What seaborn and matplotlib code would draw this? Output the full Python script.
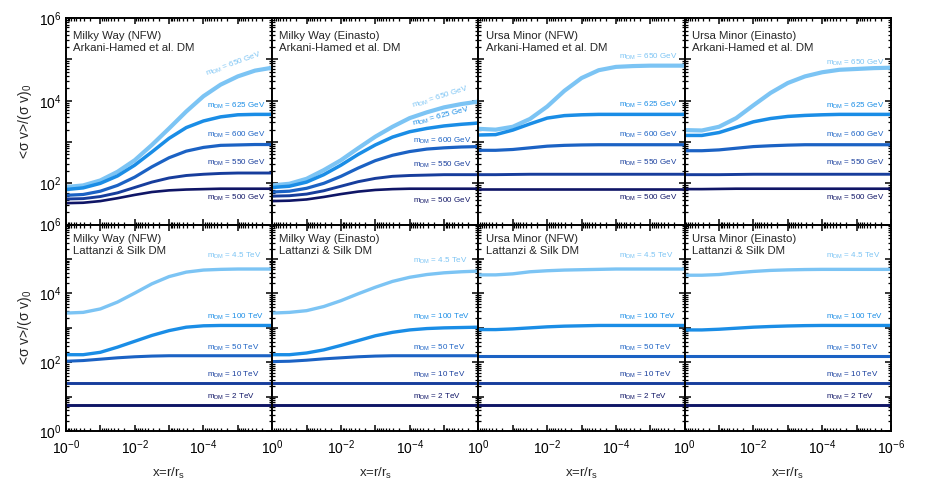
import numpy as np
import pandas as pd
import matplotlib
matplotlib.use("Agg")
import matplotlib.pyplot as plt
import seaborn as sns
from matplotlib.ticker import LogLocator, FuncFormatter, NullFormatter

# ---------------- data (log10 of <sigma v>/(sigma v)_0) -------------
log_x = [0.0, -0.5, -1.0, -1.5, -2.0, -2.5, -3.0, -3.5, -4.0, -4.5, -5.0, -5.5, -6.0]

ah_masses = ["650 GeV", "625 GeV", "600 GeV", "550 GeV", "500 GeV"]
ls_masses = ["4.5 TeV", "100 TeV", "50 TeV", "10 TeV", "2 TeV"]

mw_nfw_ah = [
    [1.91, 1.95, 2.07, 2.28, 2.56, 2.93, 3.33, 3.74, 4.11, 4.39, 4.59, 4.73, 4.80],
    [1.85, 1.89, 2.00, 2.18, 2.44, 2.76, 3.09, 3.35, 3.51, 3.61, 3.66, 3.67, 3.67],
    [1.71, 1.73, 1.81, 1.95, 2.15, 2.40, 2.62, 2.78, 2.87, 2.92, 2.93, 2.94, 2.94],
    [1.62, 1.63, 1.68, 1.77, 1.90, 2.03, 2.13, 2.19, 2.22, 2.24, 2.25, 2.25, 2.25],
    [1.52, 1.53, 1.57, 1.64, 1.72, 1.79, 1.83, 1.85, 1.86, 1.87, 1.87, 1.87, 1.87],
]
mw_ein_ah = [
    [1.95, 1.99, 2.11, 2.32, 2.56, 2.85, 3.13, 3.37, 3.58, 3.72, 3.84, 3.92, 3.98],
    [1.90, 1.93, 2.03, 2.21, 2.44, 2.70, 2.93, 3.12, 3.25, 3.33, 3.39, 3.43, 3.46],
    [1.79, 1.81, 1.88, 2.00, 2.17, 2.37, 2.55, 2.68, 2.77, 2.83, 2.86, 2.88, 2.89],
    [1.69, 1.70, 1.74, 1.82, 1.93, 2.04, 2.12, 2.17, 2.19, 2.20, 2.21, 2.21, 2.21],
    [1.57, 1.58, 1.61, 1.67, 1.74, 1.80, 1.84, 1.86, 1.87, 1.87, 1.87, 1.87, 1.87],
]
umi_nfw_ah = [
    [3.32, 3.30, 3.37, 3.56, 3.86, 4.24, 4.55, 4.74, 4.82, 4.84, 4.85, 4.85, 4.85],
    [3.17, 3.18, 3.29, 3.44, 3.58, 3.64, 3.66, 3.67, 3.67, 3.67, 3.67, 3.67, 3.67],
    [2.80, 2.80, 2.82, 2.86, 2.90, 2.92, 2.93, 2.935, 2.935, 2.935, 2.935, 2.935, 2.935],
    [2.21, 2.21, 2.215, 2.22, 2.22, 2.22, 2.22, 2.22, 2.22, 2.22, 2.22, 2.22, 2.22],
    [1.87, 1.87, 1.87, 1.87, 1.87, 1.87, 1.87, 1.87, 1.87, 1.87, 1.87, 1.87, 1.87],
]
umi_ein_ah = [
    [3.29, 3.28, 3.37, 3.58, 3.89, 4.19, 4.43, 4.59, 4.69, 4.75, 4.77, 4.79, 4.80],
    [3.16, 3.16, 3.23, 3.36, 3.49, 3.57, 3.62, 3.645, 3.66, 3.67, 3.67, 3.67, 3.67],
    [2.79, 2.79, 2.81, 2.85, 2.89, 2.91, 2.925, 2.935, 2.935, 2.935, 2.935, 2.935, 2.935],
    [2.21, 2.21, 2.21, 2.215, 2.22, 2.22, 2.22, 2.22, 2.22, 2.22, 2.22, 2.22, 2.22],
    [1.86, 1.86, 1.865, 1.87, 1.87, 1.87, 1.87, 1.87, 1.87, 1.87, 1.87, 1.87, 1.87],
]
mw_nfw_ls = [
    [3.43, 3.45, 3.55, 3.75, 4.01, 4.28, 4.49, 4.62, 4.68, 4.70, 4.71, 4.71, 4.71],
    [2.22, 2.22, 2.29, 2.44, 2.61, 2.78, 2.92, 3.02, 3.06, 3.07, 3.07, 3.07, 3.07],
    [2.03, 2.05, 2.09, 2.13, 2.16, 2.18, 2.19, 2.19, 2.19, 2.19, 2.19, 2.19, 2.19],
    [1.40, 1.40, 1.40, 1.40, 1.40, 1.40, 1.40, 1.40, 1.40, 1.40, 1.40, 1.40, 1.40],
    [0.75, 0.75, 0.75, 0.75, 0.75, 0.75, 0.75, 0.75, 0.75, 0.75, 0.75, 0.75, 0.75],
]
mw_ein_ls = [
    [3.43, 3.45, 3.50, 3.62, 3.79, 3.99, 4.18, 4.35, 4.47, 4.55, 4.60, 4.63, 4.65],
    [2.22, 2.22, 2.27, 2.36, 2.49, 2.63, 2.77, 2.87, 2.94, 2.98, 3.00, 3.01, 3.02],
    [2.02, 2.03, 2.06, 2.10, 2.13, 2.16, 2.18, 2.19, 2.19, 2.19, 2.19, 2.19, 2.19],
    [1.40, 1.40, 1.40, 1.40, 1.40, 1.40, 1.40, 1.40, 1.40, 1.40, 1.40, 1.40, 1.40],
    [0.75, 0.75, 0.75, 0.75, 0.75, 0.75, 0.75, 0.75, 0.75, 0.75, 0.75, 0.75, 0.75],
]
umi_nfw_ls = [
    [4.54, 4.54, 4.57, 4.63, 4.66, 4.68, 4.69, 4.70, 4.71, 4.71, 4.71, 4.71, 4.71],
    [2.95, 2.95, 2.97, 3.00, 3.03, 3.05, 3.06, 3.07, 3.07, 3.07, 3.07, 3.07, 3.07],
    [2.18, 2.18, 2.18, 2.18, 2.18, 2.18, 2.18, 2.18, 2.18, 2.18, 2.18, 2.18, 2.18],
    [1.41, 1.41, 1.41, 1.41, 1.41, 1.41, 1.41, 1.41, 1.41, 1.41, 1.41, 1.41, 1.41],
    [0.755, 0.755, 0.755, 0.755, 0.755, 0.755, 0.755, 0.755, 0.755, 0.755, 0.755, 0.755, 0.755],
]
umi_ein_ls = [
    [4.53, 4.53, 4.55, 4.60, 4.64, 4.67, 4.685, 4.695, 4.70, 4.70, 4.70, 4.70, 4.70],
    [2.94, 2.94, 2.96, 2.99, 3.02, 3.04, 3.055, 3.065, 3.07, 3.07, 3.07, 3.07, 3.07],
    [2.18, 2.18, 2.18, 2.18, 2.18, 2.18, 2.18, 2.18, 2.18, 2.18, 2.18, 2.18, 2.18],
    [1.41, 1.41, 1.41, 1.41, 1.41, 1.41, 1.41, 1.41, 1.41, 1.41, 1.41, 1.41, 1.41],
    [0.755, 0.755, 0.755, 0.755, 0.755, 0.755, 0.755, 0.755, 0.755, 0.755, 0.755, 0.755, 0.755],
]

titles = [
    "Milky Way (NFW)\nArkani-Hamed et al. DM", "Milky Way (Einasto)\nArkani-Hamed et al. DM",
    "Ursa Minor (NFW)\nArkani-Hamed et al. DM", "Ursa Minor (Einasto)\nArkani-Hamed et al. DM",
    "Milky Way (NFW)\nLattanzi & Silk DM", "Milky Way (Einasto)\nLattanzi & Silk DM",
    "Ursa Minor (NFW)\nLattanzi & Silk DM", "Ursa Minor (Einasto)\nLattanzi & Silk DM",
]

# curve-label anchor (log10 y of text baseline at the label's left end) and rotation
label_logy = [
    [4.59, 3.82, 3.12, 2.45, 1.60],
    [3.82, 3.39, 2.98, 2.41, 1.54],
    [5.01, 3.85, 3.125, 2.45, 1.60],
    [4.87, 3.83, 3.12, 2.45, 1.60],
    [5.04, 3.25, 2.37, 1.58, 0.94],
    [4.89, 3.25, 2.37, 1.58, 0.94],
    [5.04, 3.27, 2.37, 1.59, 0.95],
    [5.04, 3.27, 2.37, 1.59, 0.95],
]
label_rot = [
    [20, 0, 0, 0, 0],
    [17.5, 14.5, 0, 0, 0],
    [0, 0, 0, 0, 0], [0, 0, 0, 0, 0], [0, 0, 0, 0, 0],
    [0, 0, 0, 0, 0], [0, 0, 0, 0, 0], [0, 0, 0, 0, 0],
]
label_logx = -4.1

panel_curves = [mw_nfw_ah, mw_ein_ah, umi_nfw_ah, umi_ein_ah,
                mw_nfw_ls, mw_ein_ls, umi_nfw_ls, umi_ein_ls]

colors = ["#7cc4f4", "#1a8de6", "#1b62c4", "#173d9c", "#0f1566"]
lw_top = [3.0, 2.5, 2.3, 2.1, 1.9]
lw_bot = [2.4, 2.4, 2.2, 2.1, 2.1]

# ---------------- style ----------------
sns.set_style("ticks")
plt.rcParams["font.family"] = ["Liberation Sans", "DejaVu Sans"]
plt.rcParams["mathtext.fontset"] = "custom"
plt.rcParams["mathtext.rm"] = "Liberation Sans"
plt.rcParams["mathtext.it"] = "Liberation Sans:italic"
plt.rcParams["mathtext.bf"] = "Liberation Sans:bold"
plt.rcParams["mathtext.sf"] = "Liberation Sans"

fig, axes = plt.subplots(2, 4, figsize=(9.29, 4.91), dpi=100)
fig.subplots_adjust(left=0.071, right=0.959, top=0.963, bottom=0.122, wspace=0, hspace=0)

x_vals = [10.0 ** v for v in log_x]


def yfmt(v, pos):
    e = int(round(np.log10(v)))
    if e % 2 == 0:
        return r"$\mathdefault{10^{%d}}$" % e
    return ""


for i, ax in enumerate(axes.flat):
    row, col = divmod(i, 4)
    masses = ah_masses if row == 0 else ls_masses
    lws = lw_top if row == 0 else lw_bot
    curves = panel_curves[i]
    rows = []
    for m, vals in zip(masses, curves):
        for xv, lv in zip(x_vals, vals):
            rows.append({"mass": m, "x": xv, "y": 10.0 ** lv})
    df = pd.DataFrame(rows)
    for k, m in enumerate(masses):
        sns.lineplot(data=df[df["mass"] == m], x="x", y="y", ax=ax, color=colors[k],
                     linewidth=lws[k], legend=False, estimator=None, sort=False)
        ax.text(10.0 ** label_logx, 10.0 ** label_logy[i][k],
                r"m$_{\mathrm{DM}}$ = " + m, color=colors[k], fontsize=5.8,
                ha="left", va="baseline", rotation=label_rot[i][k],
                rotation_mode="anchor")

    ax.set_xscale("log")
    ax.set_yscale("log")
    ax.set_xlim(1, 1e-6)
    ax.set_ylim((10, 1e6) if row == 0 else (1, 1e6))
    ax.set_xlabel("")
    ax.set_ylabel("")

    ax.yaxis.set_major_locator(LogLocator(base=10, numticks=20))
    ax.yaxis.set_minor_locator(LogLocator(base=10, subs=np.arange(2, 10), numticks=100))
    ax.yaxis.set_major_formatter(FuncFormatter(yfmt))
    ax.yaxis.set_minor_formatter(NullFormatter())

    xt = [10.0 ** (-k) for k in range(7)]
    xl = []
    for k in range(7):
        if row == 1 and k in (0, 2, 4):
            xl.append(r"$\mathdefault{10^{-0}}$" if (k == 0 and col == 0) else
                      (r"$\mathdefault{10^{0}}$" if k == 0 else r"$\mathdefault{10^{-%d}}$" % k))
        elif row == 1 and k == 6 and col == 3:
            xl.append(r"$\mathdefault{10^{-6}}$")
        else:
            xl.append("")
    ax.set_xticks(xt, xl)
    ax.xaxis.set_minor_locator(LogLocator(base=10, subs=np.arange(2, 10), numticks=100))
    ax.xaxis.set_minor_formatter(NullFormatter())

    ax.tick_params(which="both", direction="in", top=True, right=True, bottom=True,
                   left=True, colors="black", labelsize=10)
    ax.tick_params(which="major", length=4.5, width=1.1)
    ax.tick_params(which="minor", length=2.2, width=0.9)
    ax.tick_params(axis="x", pad=5)
    ax.tick_params(axis="y", pad=3)
    if col != 0:
        ax.tick_params(labelleft=False)
    for s in ax.spines.values():
        s.set_linewidth(1.4)
        s.set_color("black")

    ax.text(0.035, 0.94 if row == 0 else 0.955, titles[i], transform=ax.transAxes,
            ha="left", va="top", fontsize=8.2, linespacing=1.25)

    if col == 0:
        ax.set_ylabel(r"<σ v>/(σ v)$_{0}$", fontsize=10, labelpad=4)
    if row == 1:
        ax.set_xlabel(r"x=r/r$_{\mathrm{s}}$", fontsize=9.5, labelpad=7)

fig.savefig("out.png", dpi=100, facecolor="white")
